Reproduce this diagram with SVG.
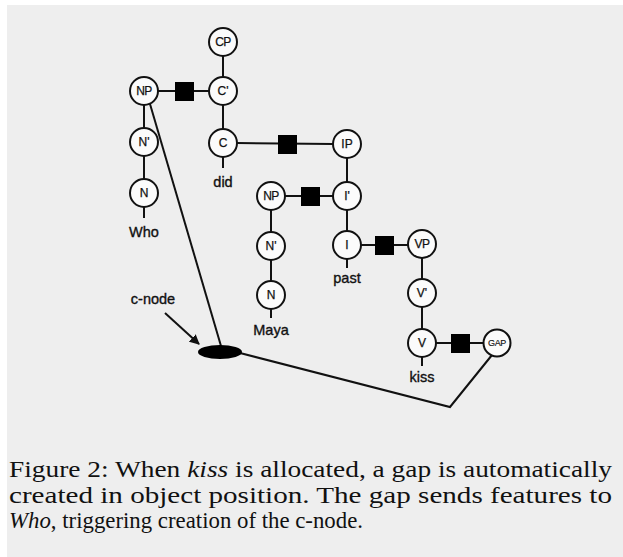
<svg xmlns="http://www.w3.org/2000/svg" width="623" height="557" viewBox="0 0 623 557">
<defs>
<style>
.n circle{fill:#fbfbfb;stroke:#111;stroke-width:2}
.n text{font-family:"Liberation Sans",Arial,sans-serif;font-size:12px;fill:#111;text-anchor:middle;dominant-baseline:central;stroke:#111;stroke-width:0.25}
.lbl{font-family:"Liberation Sans",Arial,sans-serif;font-size:14.5px;fill:#111;text-anchor:middle;stroke:#111;stroke-width:0.35}
.sq{fill:#000}
.c line,.c polyline{stroke:#111;stroke-width:2;fill:none}
.cap{font-family:"Liberation Serif","Times New Roman",serif;font-size:23px;fill:#111}
</style>
<marker id="ah" viewBox="0 0 10 10" refX="9" refY="5" markerWidth="5" markerHeight="5" orient="auto" markerUnits="strokeWidth">
<path d="M0,0 L10,5 L0,10 z" fill="#111"/>
</marker>
</defs>
<rect width="623" height="557" fill="#ffffff"/>
<rect x="7" y="5" width="616" height="552" fill="#eeeeee"/>

<g id="connectors" class="c">
<line x1="223" y1="56" x2="223" y2="77"/>
<line x1="158" y1="91" x2="209" y2="91"/>
<line x1="223" y1="105" x2="223" y2="129"/>
<line x1="237" y1="143" x2="333" y2="144"/>
<line x1="223" y1="157" x2="223" y2="168"/>
<line x1="144" y1="105" x2="144" y2="128"/>
<line x1="144" y1="156" x2="144" y2="179"/>
<line x1="144" y1="207" x2="144" y2="218"/>
<line x1="347" y1="158" x2="347" y2="182"/>
<line x1="285" y1="196" x2="333" y2="196"/>
<line x1="347" y1="210" x2="347" y2="231"/>
<line x1="361" y1="245" x2="408" y2="245"/>
<line x1="347" y1="259" x2="347" y2="268"/>
<line x1="271" y1="210" x2="271" y2="232"/>
<line x1="271" y1="260" x2="271" y2="281"/>
<line x1="271" y1="309" x2="271" y2="318"/>
<line x1="422" y1="258" x2="422" y2="279"/>
<line x1="422" y1="307" x2="422" y2="329"/>
<line x1="436" y1="343" x2="484" y2="343"/>
<line x1="422" y1="357" x2="422" y2="366"/>
<line x1="150" y1="104" x2="221" y2="346"/>
<polyline points="240,353 450,407 492,355"/>
<line x1="165" y1="313" x2="199" y2="344" marker-end="url(#ah)"/>
</g>

<rect class="sq" x="175" y="82" width="19" height="19"/>
<rect class="sq" x="278" y="135" width="19" height="19"/>
<rect class="sq" x="301" y="187" width="19" height="19"/>
<rect class="sq" x="375" y="236" width="19" height="19"/>
<rect class="sq" x="451" y="334" width="19" height="19"/>
<ellipse id="c-node" cx="220" cy="352" rx="22" ry="7" fill="#000"/>

<g id="CP" class="n"><circle cx="223" cy="42" r="14"/><text x="223" y="42" letter-spacing="-0.5">CP</text></g>
<g id="Cbar" class="n"><circle cx="223" cy="91" r="14"/><text x="223" y="91">C'</text></g>
<g id="NP1" class="n"><circle cx="144" cy="91" r="14"/><text x="144" y="91" letter-spacing="-0.5">NP</text></g>
<g id="Nbar1" class="n"><circle cx="144" cy="142" r="14"/><text x="144" y="142">N'</text></g>
<g id="C" class="n"><circle cx="223" cy="143" r="14"/><text x="223" y="143">C</text></g>
<g id="IP" class="n"><circle cx="347" cy="144" r="14"/><text x="347" y="144">IP</text></g>
<g id="N1" class="n"><circle cx="144" cy="193" r="14"/><text x="144" y="193">N</text></g>
<g id="NP2" class="n"><circle cx="271" cy="196" r="14"/><text x="271" y="196" letter-spacing="-0.5">NP</text></g>
<g id="Ibar" class="n"><circle cx="347" cy="196" r="14"/><text x="347" y="196">I'</text></g>
<g id="Nbar2" class="n"><circle cx="271" cy="246" r="14"/><text x="271" y="246">N'</text></g>
<g id="I" class="n"><circle cx="347" cy="245" r="14"/><text x="347" y="245">I</text></g>
<g id="VP" class="n"><circle cx="422" cy="244" r="14"/><text x="422" y="244" letter-spacing="-0.5">VP</text></g>
<g id="N2" class="n"><circle cx="271" cy="295" r="14"/><text x="271" y="295">N</text></g>
<g id="Vbar" class="n"><circle cx="422" cy="293" r="14"/><text x="422" y="293">V'</text></g>
<g id="V" class="n"><circle cx="422" cy="343" r="14"/><text x="422" y="343">V</text></g>
<g id="GAP" class="n"><circle cx="497" cy="343" r="13.5"/><text x="497" y="343" style="font-size:9px;stroke-width:0.15" letter-spacing="-0.4">GAP</text></g>

<g id="labels">
<text class="lbl" x="223" y="187">did</text>
<text class="lbl" x="144" y="237">Who</text>
<text class="lbl" x="347" y="283">past</text>
<text class="lbl" x="271" y="335">Maya</text>
<text class="lbl" x="422" y="382">kiss</text>
<text class="lbl" x="153" y="304">c-node</text>
</g>

<g id="caption">
<text class="cap" x="9" y="477" textLength="603" lengthAdjust="spacingAndGlyphs">Figure 2: When <tspan font-style="italic">kiss</tspan> is allocated, a gap is automatically</text>
<text class="cap" x="9" y="503" textLength="603" lengthAdjust="spacingAndGlyphs">created in object position.  The gap sends features to</text>
<text class="cap" x="9" y="528" textLength="354" lengthAdjust="spacingAndGlyphs"><tspan font-style="italic">Who</tspan>, triggering creation of the c-node.</text>
</g>
</svg>
